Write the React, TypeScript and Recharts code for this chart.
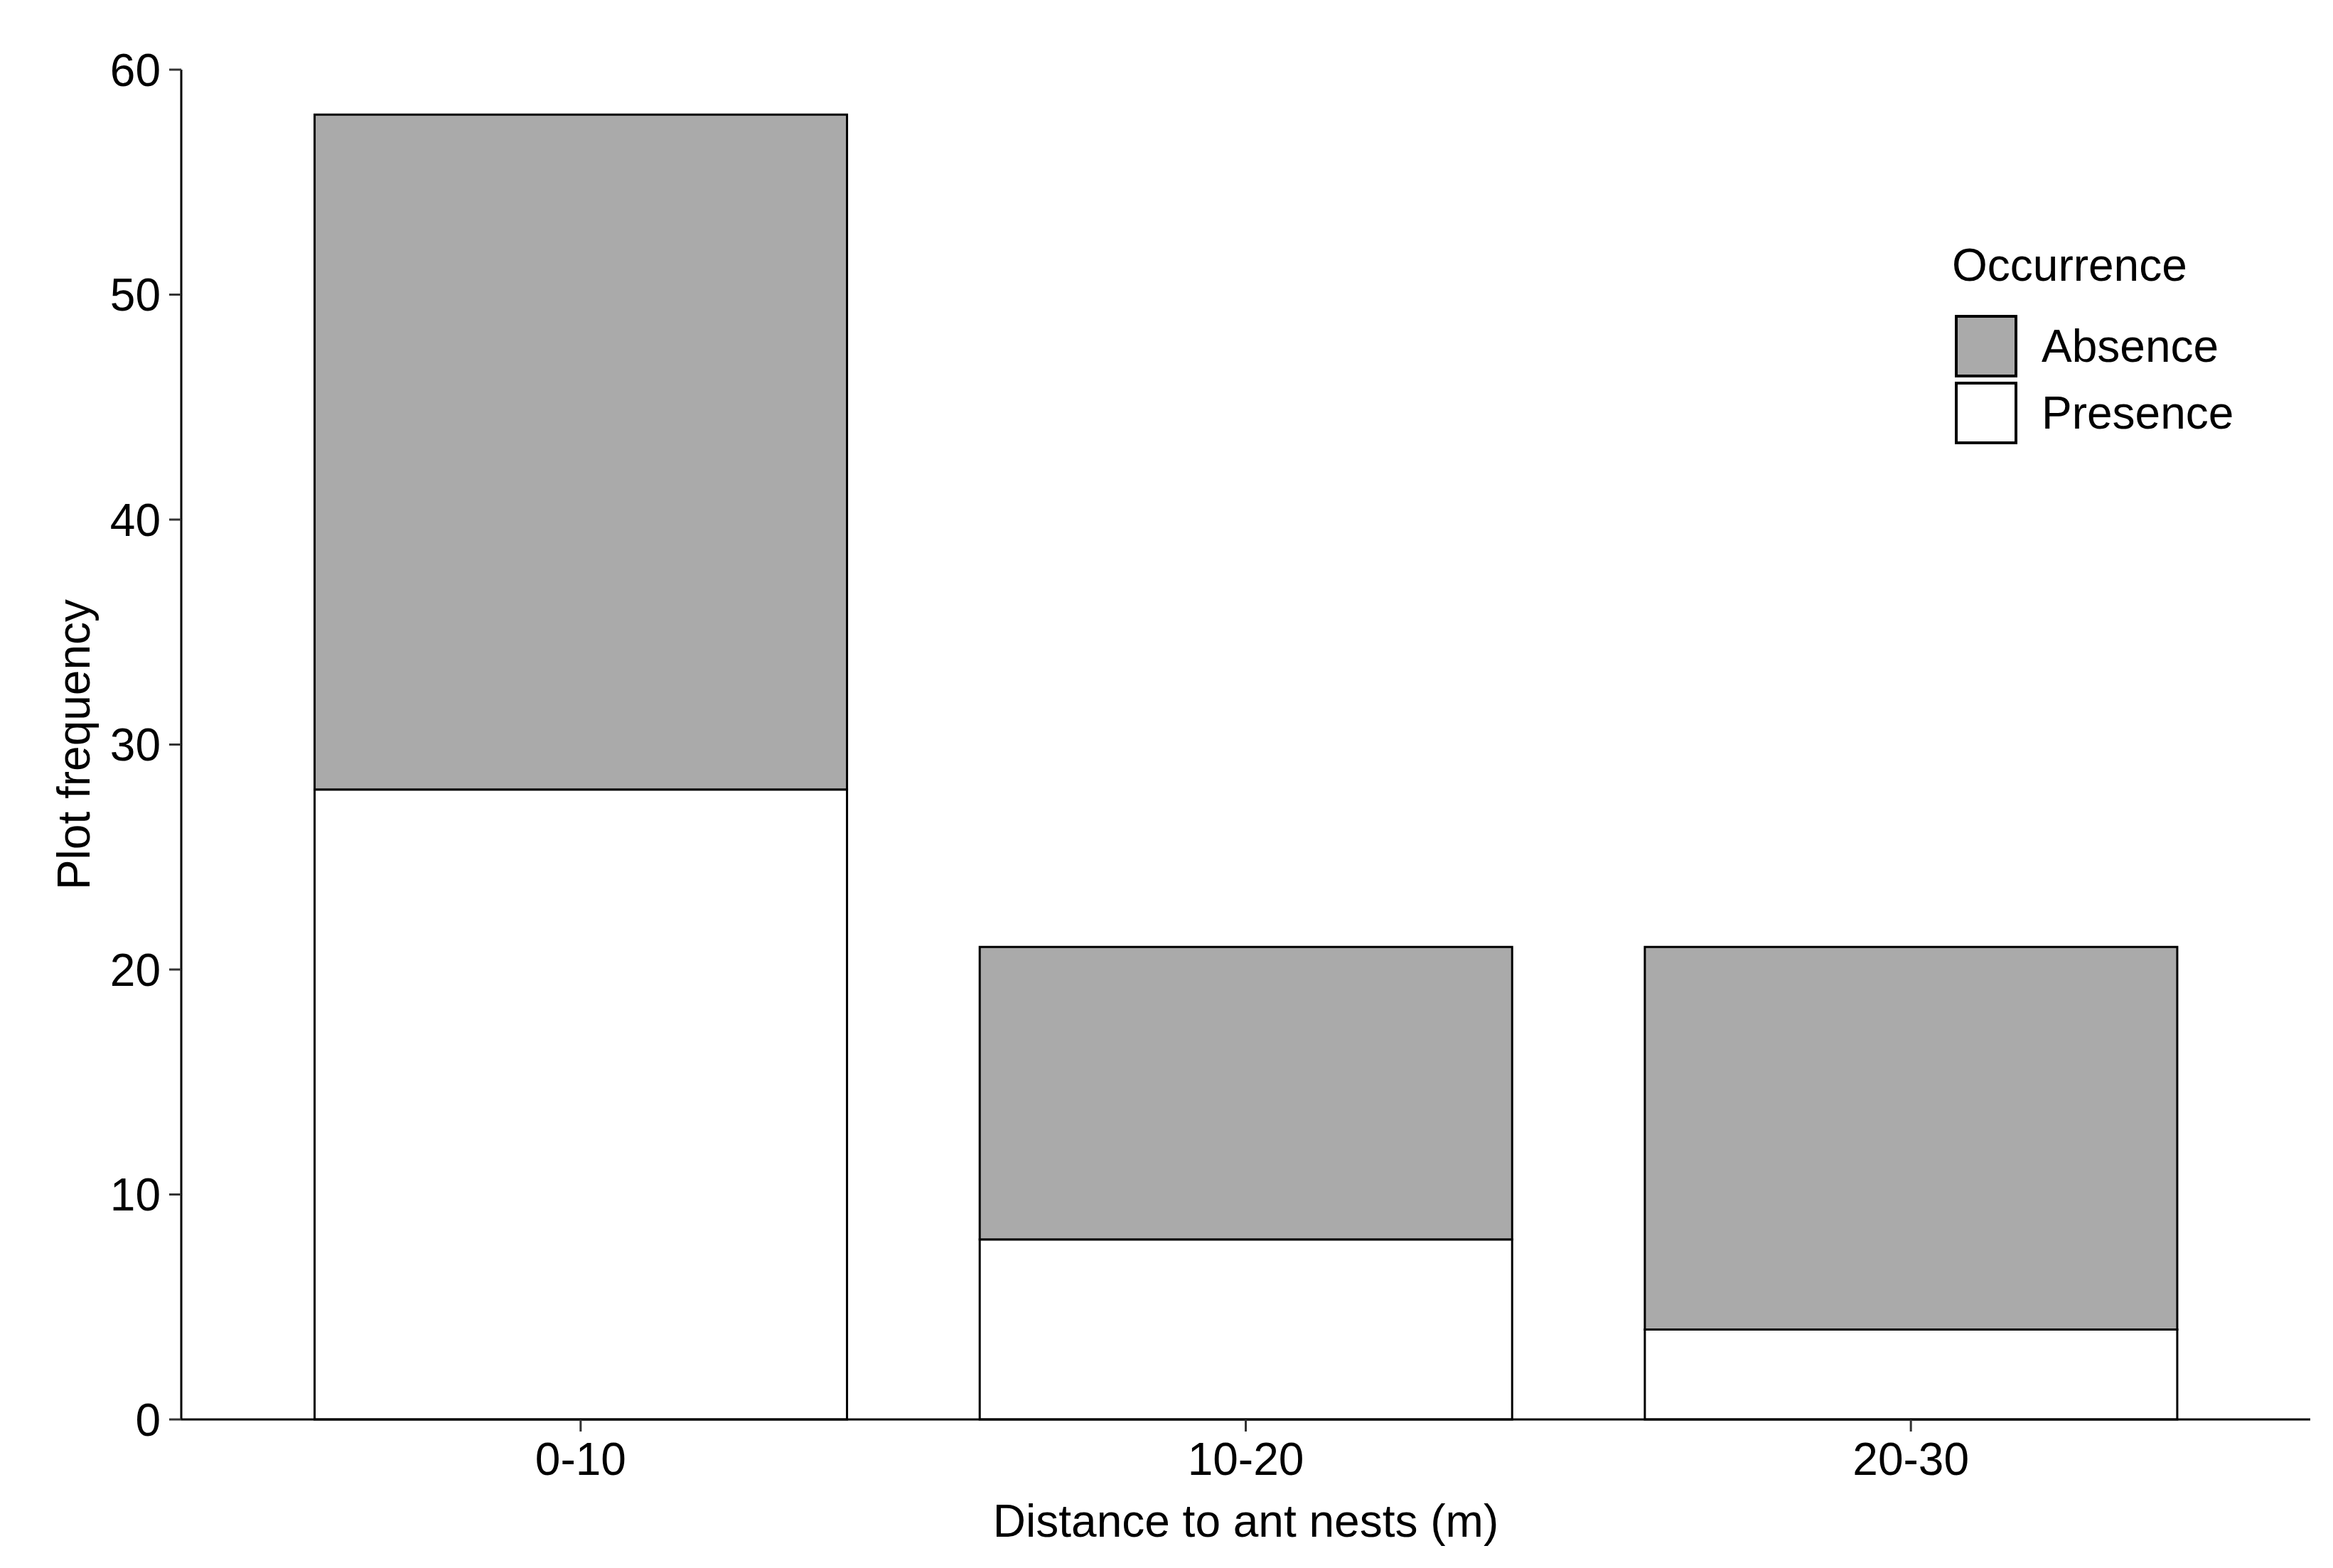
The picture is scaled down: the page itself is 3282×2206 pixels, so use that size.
import React from 'react';
import { BarChart, Bar, XAxis, YAxis, Legend } from 'recharts';

const categories = ['0-10', '10-20', '20-30'];
const presence = [28, 8, 4];
const absence = [30, 13, 17];
const yTicks = [0, 10, 20, 30, 40, 50, 60];
const presenceName = 'Presence';
const absenceName = 'Absence';
const legendOrder = [absenceName, presenceName];
const legendTitle = 'Occurrence';
const xTitle = 'Distance to ant nests (m)';
const yTitle = 'Plot frequency';

const data = categories.map((c, i) => ({ category: c, presence: presence[i], absence: absence[i] }));

const FONT = '"Liberation Sans", Arial, sans-serif';

function LegendContent(props: any) {
  const items = [...(props.payload || [])].sort(
    (a: any, b: any) => legendOrder.indexOf(a.value) - legendOrder.indexOf(b.value)
  );
  return (
    <div style={{ fontFamily: FONT, fontSize: 64, color: '#000' }}>
      <div style={{ height: 74, lineHeight: '74px', whiteSpace: 'nowrap' }}>{legendTitle}</div>
      <div style={{ height: 30 }} />
      {items.map((it: any) => (
        <div key={it.value} style={{ display: 'flex', alignItems: 'center', height: 94, marginLeft: 4 }}>
          <div
            style={{
              width: 88,
              height: 88,
              boxSizing: 'border-box',
              border: '4px solid #000',
              background: it.payload?.fill || it.color,
            }}
          />
          <div style={{ marginLeft: 34, whiteSpace: 'nowrap', lineHeight: '74px' }}>{it.value}</div>
        </div>
      ))}
    </div>
  );
}

export default function App() {
  return (
    <div style={{ position: 'absolute', left: 0, top: 0, width: 3282, height: 2206, background: '#fff' }}>
      <BarChart
        width={3282}
        height={2206}
        data={data}
        margin={{ top: 98, right: 32, bottom: 0, left: 0 }}
        barCategoryGap="10%"
        style={{ fontFamily: FONT }}
      >
        <XAxis
          dataKey="category"
          height={209}
          padding={{ left: 94, right: 94 }}
          axisLine={{ stroke: '#000', strokeWidth: 3 }}
          tickLine={{ stroke: '#333', strokeWidth: 3 }}
          tickSize={17}
          tickMargin={16}
          tick={{ fill: '#000', fontSize: 64, fontFamily: FONT }}
          label={{ value: xTitle, position: 'insideBottom', offset: 44, fill: '#000', fontSize: 64, fontFamily: FONT }}
        />
        <YAxis
          type="number"
          domain={[0, 60]}
          ticks={yTicks}
          width={255}
          axisLine={{ stroke: '#000', strokeWidth: 3 }}
          tickLine={{ stroke: '#333', strokeWidth: 3 }}
          tickSize={17}
          tickMargin={12}
          tick={{ fill: '#000', fontSize: 64, fontFamily: FONT }}
          label={{
            value: yTitle,
            angle: -90,
            position: 'insideLeft',
            offset: 103,
            fill: '#000',
            fontSize: 64,
            fontFamily: FONT,
            style: { textAnchor: 'middle' },
          }}
        />
        <Legend
          layout="horizontal"
          verticalAlign="middle"
          align="center"
          content={<LegendContent />}
          wrapperStyle={{ left: 2746, top: 336, width: 'auto', height: 'auto' }}
        />
        <Bar
          dataKey="presence"
          name={presenceName}
          stackId="a"
          fill="#FFFFFF"
          stroke="#000"
          strokeWidth={3}
          isAnimationActive={false}
        />
        <Bar
          dataKey="absence"
          name={absenceName}
          stackId="a"
          fill="#AAAAAA"
          stroke="#000"
          strokeWidth={3}
          isAnimationActive={false}
        />
      </BarChart>
    </div>
  );
}
